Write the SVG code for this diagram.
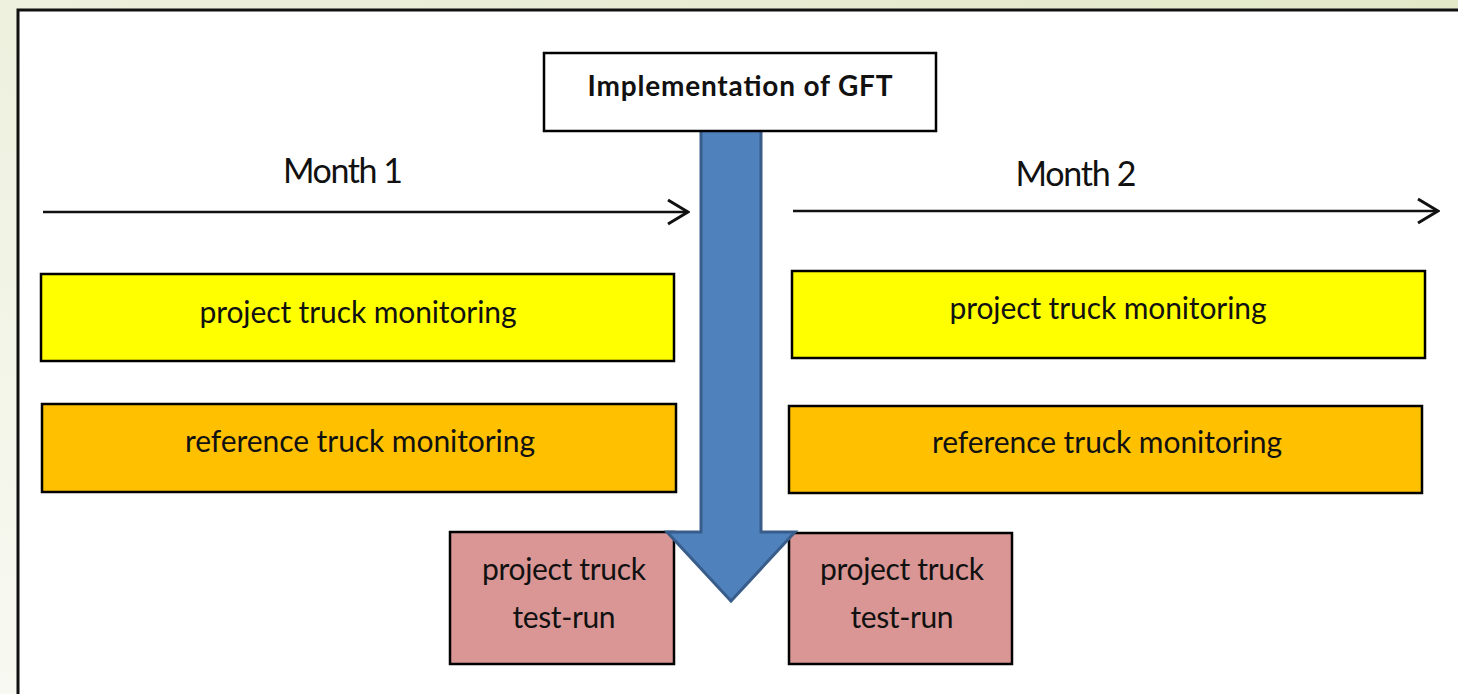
<svg xmlns="http://www.w3.org/2000/svg" width="1458" height="694" viewBox="0 0 1458 694">
<defs>
<linearGradient id="bg" x1="0" y1="1" x2="1" y2="0">
<stop offset="0" stop-color="#f8f9f2"/>
<stop offset="1" stop-color="#e2e8c8"/>
</linearGradient>
<marker id="chev" viewBox="0 0 24 28" refX="22" refY="14" markerWidth="24" markerHeight="28" markerUnits="userSpaceOnUse" orient="auto">
<path d="M2,2 L22,14 L2,26" fill="none" stroke="#111" stroke-width="3"/>
</marker>
<style>
.box{stroke:#000;stroke-width:2.5}
.t{font-family:Lato,"Open Sans","Liberation Sans",sans-serif;fill:#111;text-anchor:middle}
.lbl{font-size:30px}
.month{font-size:34px}
.axis{stroke:#111;stroke-width:2.5;fill:none}
</style>
</defs>
<rect x="0" y="0" width="1458" height="694" fill="url(#bg)"/>
<rect x="18" y="10" width="1460" height="700" fill="#fff" stroke="#111" stroke-width="3"/>

<g id="connectors">
<line class="axis" x1="43" y1="212" x2="688" y2="212" marker-end="url(#chev)"/>
<line class="axis" x1="793" y1="211" x2="1438" y2="211" marker-end="url(#chev)"/>
</g>

<g id="month1"><text class="t month" x="343" y="183" textLength="120">Month 1</text></g>
<g id="month2"><text class="t month" x="1076" y="186" textLength="121">Month 2</text></g>

<g id="ptm1">
<rect class="box" x="41" y="274" width="633" height="87" fill="#ffff00"/>
<text class="t lbl" x="358" y="323" textLength="317">project truck monitoring</text>
</g>
<g id="ptm2">
<rect class="box" x="792" y="271" width="633" height="87" fill="#ffff00"/>
<text class="t lbl" x="1108" y="319" textLength="317">project truck monitoring</text>
</g>
<g id="rtm1">
<rect class="box" x="42" y="404" width="634" height="88" fill="#ffc000"/>
<text class="t lbl" x="360" y="452" textLength="350">reference truck monitoring</text>
</g>
<g id="rtm2">
<rect class="box" x="789" y="406" width="633" height="87" fill="#ffc000"/>
<text class="t lbl" x="1107" y="453" textLength="350">reference truck monitoring</text>
</g>
<g id="test1">
<rect class="box" x="450" y="532" width="224" height="132" fill="#d99694"/>
<text class="t lbl" x="564" y="580" textLength="164">project truck</text>
<text class="t lbl" x="564" y="628" textLength="103">test-run</text>
</g>
<g id="test2">
<rect class="box" x="789" y="533" width="223" height="131" fill="#d99694"/>
<text class="t lbl" x="902" y="580" textLength="164">project truck</text>
<text class="t lbl" x="902" y="628" textLength="103">test-run</text>
</g>

<g id="gft-arrow">
<polygon points="701,130 761,130 761,532 795,532 731,601 667,532 701,532" fill="#4f81bd" stroke="#385d8a" stroke-width="3" stroke-linejoin="miter"/>
</g>

<g id="impl">
<rect class="box" x="544" y="53" width="392" height="78" fill="#fff"/>
<text class="t" x="740" y="96" font-size="28" font-weight="bold" textLength="305">Implementation of GFT</text>
</g>
</svg>
